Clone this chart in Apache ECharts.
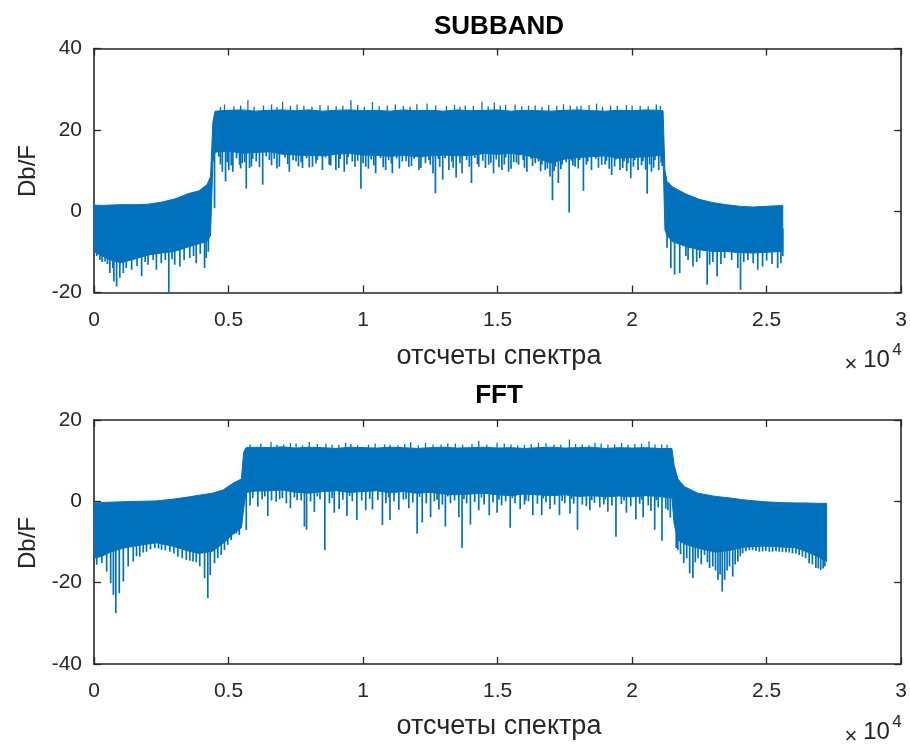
<!DOCTYPE html>
<html><head><meta charset="utf-8">
<script src="https://cdn.jsdelivr.net/npm/echarts@6/dist/echarts.min.js"></script>
<style>html,body{margin:0;padding:0;background:#fff}#c{width:910px;height:744px}</style>
</head><body><div id="c"></div><script>
// ---------------- DATA ----------------
const xTickLabels = ['0', '0.5', '1', '1.5', '2', '2.5', '3'];
const subYTicks = [-20, 0, 20, 40];
const fftYTicks = [-40, -20, 0, 20];

// SUBBAND envelope of the dense trace (x in samples, dB)
const subEnvX = [0, 300, 600, 1000, 1500, 2000, 2500, 3000, 3500, 3900, 4200, 4330, 4420, 4500,
  5000, 5500, 6000, 6500, 7000, 7500, 8000, 8500, 9000, 9500, 10000, 10500, 11000, 11500, 12000, 12500,
  13000, 13500, 14000, 14500, 15000, 15500, 16000, 16500, 17000, 17500, 18000, 18500, 19000, 19500,
  20000, 20500, 21000, 21150, 21220, 21300, 21500, 22000, 22500, 23000, 23500, 24000, 24500, 25000, 25600];
const subEnvHi = [1.5, 1.4, 1.5, 1.6, 1.6, 1.7, 2.2, 3.0, 4.3, 5.0, 6.5, 8.5, 22, 24.6,
  24.8, 24.9, 24.6, 24.8, 24.9, 24.7, 24.9, 24.6, 24.8, 24.9, 24.7, 24.8, 24.6, 24.9, 24.7, 24.8,
  24.6, 24.9, 24.7, 24.8, 24.9, 24.6, 24.8, 24.7, 24.6, 24.8, 24.9, 24.7, 24.6, 24.8,
  24.7, 24.9, 24.8, 24.7, 10, 7.3, 6.0, 4.2, 2.9, 2.1, 1.6, 1.2, 1.0, 1.2, 1.4];
const subEnvLo = [-10, -11, -12, -12.7, -11.8, -10.8, -10.3, -9.9, -8.8, -8, -7.5, -6, 12, 14.5,
  14.8, 14.2, 14.4, 14.6, 14, 13.8, 13.7, 13.6, 14, 14.2, 13.8, 13.7, 13.5, 13.7, 13.4, 13.6,
  13.8, 13.6, 13.7, 14.2, 14, 14.2, 13.8, 13, 11.8, 12.8, 13.2, 13.4, 13.6, 13,
  13.2, 13.4, 13.7, 13.4, -4.6, -6, -7.5, -8.7, -9.5, -9.9, -9.9, -10.2, -10.3, -10.1, -9.9];
const subDips = [[100,-11],[220,-12],[300,-12.5],[410,-12.4],[500,-13],[590,-15.2],[700,-14],[740,-17.3],[840,-18.5],
  [960,-16.4],[1090,-15.2],[1200,-14],[1400,-14.4],[1600,-13.5],[1770,-16.0],[1900,-12.5],[2010,-13.2],[2200,-12],
  [2320,-14.4],[2500,-12.8],[2650,-12],[2780,-20],[2900,-11.8],[3000,-13.2],[3190,-13.6],[3350,-12],[3560,-11.5],
  [3700,-11],[3800,-12.8],[3950,-10.5],[4110,-14],[4170,-11.5],[4250,-10],
  [4480,0.7],[4640,13.4],[4770,9.7],[4890,7.3],[5010,10.1],[5160,9.7],[5410,11.4],[5510,11.8],[5660,5.6],[5780,10.6],
  [6030,12.2],[6270,6.5],[6520,12.6],[6890,10.9],[7260,9.7],[7510,12.2],[7750,10.6],[8120,10.9],[8490,10.1],[8740,11.4],
  [8990,10.1],[9300,9.7],[9600,12.2],[9920,5.5],[10100,10.9],[10470,9.3],[10840,10.1],[11090,9.3],[11460,12.2],
  [11700,10.9],[12080,10.1],[12320,11.8],[12600,9.3],[12690,4.4],[12960,7.7],[13190,10.1],[13460,8.3],[13680,9.3],
  [14030,6.9],[14300,10.9],[14670,11.4],[14850,9.3],[15160,10.1],[15410,9.7],[15780,11.4],[16090,9.7],[16520,12.2],
  [16770,10.1],[16950,8.5],[17040,2.7],[17260,6.9],[17660,-0.3],[17880,10.9],[18190,5.0],[18490,10.1],[18870,11.4],
  [19240,8.9],[19550,10.1],[19950,8.1],[20220,10.1],[20560,4.3],[20720,9.7],[20990,10.1],
  [5300,13],[5900,12.8],[6400,13.5],[6700,12.9],[7100,13.2],[7400,12.5],[7900,13],[8300,12.6],[8600,13.2],[9150,12.8],
  [9450,13.3],[9800,12.4],[10300,12.7],[10650,13.1],[10950,12.5],[11250,13],[11600,12.3],[11900,12.9],[12200,13.2],
  [12450,12.5],[12800,12.8],[13050,13],[13300,12.2],[13850,12.6],[14150,13.1],[14450,12.4],[14950,12.7],[15300,13.2],
  [15600,12.1],[15950,12.6],[16250,12.9],[16400,11.8],[16650,11.5],[17150,11],[17400,11.5],[17550,12],[17750,12.4],
  [18050,12.6],[18350,12.2],[18650,12.9],[19050,12.4],[19400,12.7],[19700,12.2],[19850,11.8],[20100,12.6],[20400,12.3],
  [20850,12.5],[21080,11.9],
  [4700,11.5],[4950,12],[5100,11.2],[5450,10.5],[5600,12],[5850,11],[6150,10.8],[6600,11.3],[6800,10.5],[7200,11.6],
  [7600,11],[7700,12],[8000,10.8],[8250,11.7],[8800,11.2],[9100,10.6],[9400,11.5],[9700,10.9],[10000,11.8],[10200,10.4],
  [10400,11.2],[10750,10.8],[11050,11.7],[11350,10.5],[11800,11.1],[12150,10.6],[12500,11.4],[12850,10.9],[13350,10.7],
  [13600,11.8],[13950,10.9],[14250,11.6],[14550,10.6],[14750,11.9],[15050,10.8],[15250,11.5],[15500,10.4],[15700,11.9],
  [16000,10.7],[16300,11.1],[16600,9.8],[16850,10.5],[17100,9.9],[17350,10.3],[17800,11.2],[18000,10.5],[18300,11.4],
  [18750,10.7],[19000,11.5],[19150,10.4],[19350,11],[19650,10.6],[19800,9.9],[20050,10.9],[20350,11.3],[20500,10.2],
  [20650,11.5],[20800,10.7],[21120,11.1],
  [21300,-9],[21440,-14],[21580,-15.6],[21770,-15.2],[22000,-11],[22080,-12],[22260,-13.6],[22400,-12.5],[22510,-11.5],
  [22790,-18.1],[22880,-13.2],[23000,-12.5],[23160,-16],[23300,-13],[23440,-11.5],[23700,-12],[23930,-14],[24030,-19.3],
  [24150,-12.5],[24300,-12],[24500,-12.8],[24670,-14.4],[24850,-13.6],[25000,-12.2],[25200,-13],[25410,-14],[25530,-12.8],[25600,-11]];
const subPeaks = [[4850,26.2],[5200,25.8],[5720,27.3],[6300,26.0],[7010,26.9],[7800,25.9],[8400,26.1],[9000,25.8],
  [9550,27.3],[10350,26.9],[10900,26.0],[11500,25.9],[12000,26.3],[12380,26.5],[13100,25.9],[13800,26.0],[14420,26.9],
  [14880,26.7],[15300,26.1],[15900,25.8],[16400,26.0],[16900,26.1],[17450,26.3],[18100,25.9],[18680,26.5],[19200,26.0],
  [19790,26.1],[20300,25.9],[20900,26.2],
  [4700,25.6],[5450,26.0],[5950,25.7],[6600,26.2],[6800,25.6],[7300,25.9],[7550,26.2],[8100,25.7],[8700,26.0],[9250,25.9],
  [9800,26.1],[10050,25.7],[10600,25.8],[11200,26.2],[11750,25.7],[12700,26.0],[13400,26.1],[13600,25.7],[14100,25.9],
  [14650,25.8],[15100,26.0],[15650,26.2],[16150,25.9],[16650,25.7],[17200,25.9],[17700,26.0],[17950,25.8],[18400,26.1],
  [18900,25.7],[19450,25.9],[20000,26.0],[20600,25.8],[21050,25.9]];

// FFT envelope
const fftEnvX = [0, 300, 600, 1100, 1700, 2300, 2900, 3550, 3900, 4400, 4800, 5150, 5480, 5560, 5650,
  6000, 6500, 7000, 7500, 8000, 8500, 9000, 9500, 10000, 10500, 11000, 11500, 12000, 12500, 13000, 13500,
  14000, 14500, 15000, 15500, 16000, 16500, 17000, 17500, 18000, 18500, 19000, 19500, 20000, 20500, 21000,
  21480, 21560, 21700, 21950, 22440, 23110, 23670, 24110, 24900, 25500, 26070, 26450, 26960, 27230];
const fftEnvHi = [-0.4, -0.3, -0.2, -0.1, 0.0, 0.1, 0.5, 1.1, 1.5, 2.0, 2.8, 4.4, 5.5, 12, 13.2,
  13.3, 13.2, 13.4, 13.1, 13.3, 13.2, 13.0, 13.3, 13.2, 13.1, 13.3, 13.2, 13.0, 13.2, 13.3, 13.1,
  13.2, 13.3, 13.1, 13.2, 13.0, 13.2, 13.3, 13.1, 13.2, 13.3, 13.0, 13.2, 13.1, 13.2, 13.0,
  13.0, 9, 5.5, 3.6, 2.0, 1.2, 0.8, 0.4, -0.1, -0.3, -0.4, -0.4, -0.5, -0.5];
const fftEnvLo = [-14, -13.5, -12.5, -11.5, -10.8, -10.2, -11, -12.3, -12.8, -12.3, -10.3, -8.2, -6.5, -2, 2.2,
  2.5, 2.6, 2.8, 2.2, 2.0, 2.4, 2.6, 2.2, 2.4, 2.6, 2.1, 2.4, 2.0, 2.2, 1.8, 1.6,
  1.8, 2.0, 1.6, 1.4, 1.8, 1.6, 1.4, 1.6, 1.2, 1.4, 1.1, 1.3, 1.1, 1.4, 1.2,
  0.8, -5.4, -9.5, -10.5, -11.5, -12.5, -12, -11.3, -11, -11.2, -11.4, -12.3, -13.8, -14.8];
const fftDips = [[100,-15.6],[290,-15.2],[470,-17.3],[620,-20.1],[720,-23],[810,-27.5],[940,-22.6],[1090,-19.7],
  [1270,-16],[1460,-14.8],[1580,-13.5],[1700,-13.6],[1830,-12.6],[1950,-12.4],[2100,-11.8],[2260,-11.5],[2400,-11.6],
  [2510,-11.9],[2650,-12],[2820,-12.4],[2970,-12.8],[3120,-13.6],[3280,-14],[3430,-14.4],[3560,-14.6],[3680,-14.8],
  [3800,-15],[3930,-16],[4110,-18.9],[4230,-23.8],[4320,-18.1],[4480,-15.2],[4600,-14],[4730,-13.2],[4850,-12],
  [4970,-10.7],[5100,-9.5],[5290,-7.9],[5400,-8.3],
  [5660,-7.0],[5800,-1],[6090,-1.3],[6250,0.5],[6460,-3.6],[6600,0.2],[6770,-0.1],[7000,0.8],[7150,-0.5],[7300,-1.7],
  [7550,0.3],[7820,-6.2],[7900,-7.0],[8050,0],[8190,-2.6],[8400,0.5],[8580,-12],[8750,-0.5],[8930,-2.8],[9110,-1.9],
  [9250,0.4],[9400,-3.6],[9600,0],[9770,-4.6],[9950,0.2],[10100,-2.2],[10350,-2.0],[10550,0.3],[10720,-5.8],[10850,-0.5],
  [11000,-4.6],[11150,0],[11330,-2.1],[11500,0.4],[11700,-1.7],[11850,-0.3],[12010,-8.0],[12200,-5.2],[12350,-0.5],
  [12510,-3.9],[12650,0],[12820,-2.0],[12950,-0.8],[13060,-6.2],[13250,-0.5],[13400,0.2],[13560,-3.9],[13680,-11.4],
  [13850,-0.5],[13990,-5.7],[14150,-0.2],[14300,-2.2],[14500,-0.8],[14690,-3.4],[14830,-0.3],[14980,-2.8],[15150,-1],
  [15300,0],[15470,-6.5],[15650,-0.5],[15840,-1.9],[16000,-0.8],[16150,0],[16310,-3.4],[16480,-0.6],[16640,-3.4],
  [16800,-0.2],[16950,-1.9],[17120,-0.8],[17300,-3.4],[17500,-0.5],[17690,-3.0],[17830,-0.6],[17970,-7.0],[18150,-0.8],
  [18300,-1.2],[18430,-2.2],[18600,-0.4],[18800,-1.5],[18950,-0.8],[19100,-2.5],[19250,-1],[19400,-8.7],[19600,-0.7],
  [19790,-2.8],[19950,-1.2],[20140,-4.4],[20280,-0.6],[20410,-3.9],[20600,-1],[20700,-2.4],[20840,-7.0],[20970,-1.5],
  [21110,-9.7],[21250,-1.8],[21330,-2.2],[21420,-4],
  [5900,0.8],[6350,1.2],[6900,0.5],[7450,1],[7700,0.2],[8300,1.2],[8850,0.8],[9500,1.3],[10250,0.6],[10950,1],[11600,0.6],
  [12100,1.1],[12750,0.4],[13150,1.2],[13750,0.5],[14400,0.9],[15050,0.4],[15550,0.8],[16050,0.2],[16700,0.7],[17400,0.1],
  [17750,0.6],[18500,0.3],[19000,0.5],[19700,0.2],[20350,0.4],[20900,0.3],
  [21640,-11.5],[21700,-12],[21800,-13],[21920,-15.2],[22030,-14],[22140,-17.7],[22260,-18.9],[22350,-15],[22450,-14],
  [22570,-15.5],[22690,-13.2],[22800,-15],[22880,-16.4],[23000,-16],[23100,-17],[23190,-19.3],[23270,-18],[23350,-22.2],
  [23440,-19.3],[23530,-17],[23620,-16.0],[23740,-18.5],[23830,-15.5],[23930,-14.8],[24020,-13.5],[24110,-12.8],
  [24230,-12.3],[24360,-12],[24480,-12],[24600,-12.2],[24730,-12.4],[24850,-12.3],[24970,-12.2],[25100,-12.4],
  [25220,-12.4],[25350,-12.3],[25470,-12.4],[25590,-12.5],[25720,-12.5],[25840,-12.6],[25960,-12.8],[26090,-12.8],
  [26210,-13.2],[26330,-13.6],[26450,-14],[26580,-15.2],[26700,-15.5],[26830,-16.4],[26920,-16.5],[27010,-16.9],
  [27100,-16.5],[27160,-16.0]];
const fftPeaks = [[6580,14.6],[7050,14.0],[7510,14.2],[8000,14.6],[8620,14.2],[9100,13.9],[9550,14.1],[10200,13.9],
  [10800,14.0],[11300,13.8],[11770,14.6],[12320,14.4],[12900,13.9],[13430,14.2],[14300,14.9],[14980,14.4],[15500,14.0],
  [16000,13.9],[16520,14.4],[17100,14.0],[17670,15.2],[18150,14.0],[18620,14.4],[19100,13.9],[19610,14.4],[20100,14.1],
  [20630,14.8],[21100,14.0],
  [5800,14.0],[6200,14.2],[6800,13.9],[7300,14.3],[7750,13.8],[8300,14.1],[8850,13.9],[9350,14.4],[9800,13.8],[10450,14.2],
  [11000,13.9],[11550,14.1],[12050,13.8],[12600,14.0],[13150,14.3],[13700,13.9],[14050,14.1],[14600,13.9],[15250,14.2],
  [15750,13.8],[16250,14.1],[16800,14.3],[17350,13.9],[17900,14.1],[18400,13.8],[18850,14.2],[19350,14.0],[19850,13.9],
  [20350,14.2],[20850,14.0],[21300,13.9]];

// ---------------- CHART ----------------
const BLUE = '#0072BD';
const AX = '#262626';
const FONT = "'Liberation Sans', Arial, Helvetica, sans-serif";
const chart = echarts.init(document.getElementById('c'), null, {renderer: 'canvas'});

function bandSeries(envX, envHi, envLo, gi) {
  return {
    type: 'custom', xAxisIndex: gi * 2, yAxisIndex: gi * 2, silent: true, clip: true,
    data: [[envX[0], envHi[0]]],
    renderItem(params, api) {
      const pts = [];
      for (let i = 0; i < envX.length; i++) pts.push(api.coord([envX[i], envHi[i]]));
      for (let i = envX.length - 1; i >= 0; i--) pts.push(api.coord([envX[i], envLo[i]]));
      return {type: 'polygon', shape: {points: pts}, style: {fill: BLUE, stroke: BLUE, lineWidth: 1}};
    }
  };
}
function spikeSeries(spikes, envX, envHi, envLo, gi, w) {
  const data = spikes.map(([x, y]) => {
    let k = 0;
    while (k < envX.length - 1 && envX[k + 1] <= x) k++;
    return [x, y, (envHi[k] + envLo[k]) / 2];
  });
  return {
    type: 'custom', xAxisIndex: gi * 2, yAxisIndex: gi * 2, silent: true, clip: true, data,
    renderItem(params, api) {
      const p1 = api.coord([api.value(0), api.value(1)]);
      const p2 = api.coord([api.value(0), api.value(2)]);
      return {type: 'line', shape: {x1: p1[0], y1: p1[1], x2: p2[0], y2: p2[1]},
        style: {stroke: BLUE, lineWidth: w}};
    }
  };
}
function xAx(gi, top) {
  return {
    type: 'value', gridIndex: gi, position: top ? 'top' : 'bottom', min: 0, max: 30000, interval: 5000,
    axisLine: {show: true, onZero: false, lineStyle: {color: AX, width: 1.6}},
    axisTick: {show: true, inside: true, length: 7, lineStyle: {color: AX, width: 1.3}},
    axisLabel: {show: !top, margin: 17, fontSize: 21, color: AX, fontFamily: FONT,
      formatter: v => xTickLabels[Math.round(v / 5000)]},
    splitLine: {show: false}
  };
}
function yAx(gi, ticks, right) {
  return {
    type: 'value', gridIndex: gi, position: right ? 'right' : 'left',
    min: ticks[0], max: ticks[ticks.length - 1], interval: ticks[1] - ticks[0],
    axisLine: {show: true, onZero: false, lineStyle: {color: AX, width: 1.6}},
    axisTick: {show: true, inside: true, length: 7, lineStyle: {color: AX, width: 1.3}},
    axisLabel: {show: !right, margin: 12, fontSize: 21, color: AX, fontFamily: FONT},
    splitLine: {show: false}
  };
}
function txt(x, y, text, size, opts) {
  return Object.assign({type: 'text', x, y, silent: true,
    style: Object.assign({text, fontSize: size, fontFamily: FONT, fill: AX, align: 'center', verticalAlign: 'middle'},
      (opts && opts.style) || {})}, (opts && opts.el) || {});
}

chart.setOption({
  animation: false,
  backgroundColor: '#fff',
  grid: [
    {left: 94, top: 48.5, width: 810, height: 244},
    {left: 94, top: 420, width: 810, height: 244}
  ],
  xAxis: [xAx(0, false), xAx(0, true), xAx(1, false), xAx(1, true)],
  yAxis: [yAx(0, subYTicks, false), yAx(0, subYTicks, true), yAx(1, fftYTicks, false), yAx(1, fftYTicks, true)],
  series: [
    bandSeries(subEnvX, subEnvHi, subEnvLo, 0),
    spikeSeries(subDips, subEnvX, subEnvHi, subEnvLo, 0, 1.7),
    spikeSeries(subPeaks, subEnvX, subEnvHi, subEnvLo, 0, 1.3),
    bandSeries(fftEnvX, fftEnvHi, fftEnvLo, 1),
    spikeSeries(fftDips, fftEnvX, fftEnvHi, fftEnvLo, 1, 1.7),
    spikeSeries(fftPeaks, fftEnvX, fftEnvHi, fftEnvLo, 1, 1.3)
  ],
  graphic: [
    txt(499, 27, 'SUBBAND', 26, {style: {fontWeight: 'bold', fill: '#000'}}),
    txt(499, 396, 'FFT', 26, {style: {fontWeight: 'bold', fill: '#000'}}),
    txt(499, 357, 'отсчеты спектра', 27),
    txt(499, 727, 'отсчеты спектра', 27),
    txt(28, 171, 'Db/F', 24, {el: {rotation: Math.PI / 2}}),
    txt(28, 543, 'Db/F', 24, {el: {rotation: Math.PI / 2}}),
    txt(851, 365, '×', 22),
    txt(876.5, 360, '10', 24),
    txt(897, 350, '4', 17),
    txt(851, 737, '×', 22),
    txt(876.5, 732, '10', 24),
    txt(897, 722, '4', 17)
  ]
});
</script></body></html>
